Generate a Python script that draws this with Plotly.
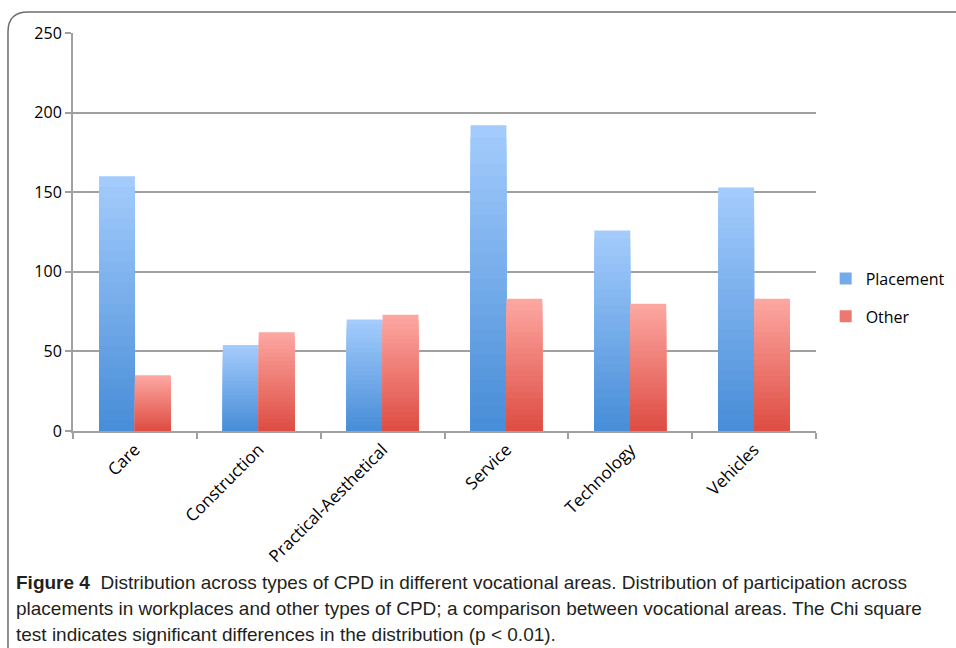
import plotly.graph_objects as go

# Vocational areas and counts per type of CPD
areas = ["Care", "Construction", "Practical-Aesthetical", "Service", "Technology", "Vehicles"]
placement = [160, 54, 70, 192, 126, 153]
other = [35, 62, 73, 83, 80, 83]
y_ticks = [0, 50, 100, 150, 200, 250]

# Top/bottom colours of the vertical gradient used for each series
BLUE_TOP, BLUE_BOT = (163, 203, 252), (72, 142, 216)
RED_TOP, RED_BOT = (252, 166, 160), (222, 78, 68)
STEPS = 24


def mix(c1, c2, t):
    return "rgb({},{},{})".format(*[round(a + (b - a) * t) for a, b in zip(c1, c2)])


fig = go.Figure()


def add_gradient_series(name, values, top, bot, group):
    # Stack of overlaid bars, shortest on top, giving a light-to-dark fade downwards
    for k in range(STEPS):
        frac = (STEPS - k) / STEPS
        fig.add_trace(go.Bar(
            x=areas,
            y=[v * frac for v in values],
            name=name,
            offsetgroup=group,
            legendgroup=group,
            showlegend=(k == STEPS // 2),
            marker=dict(color=mix(top, bot, k / (STEPS - 1)), line=dict(width=0)),
            hoverinfo="skip" if k else "x+y",
        ))


add_gradient_series("Placement", placement, BLUE_TOP, BLUE_BOT, "placement")
add_gradient_series("Other", other, RED_TOP, RED_BOT, "other")

# Rounded frame around chart and caption
r_x, r_y = 20 / 743, 20 / 398
x0, y0, x1, y1 = -0.0875, 1.0528, 1.35, -0.7
frame = (f"M {x0},{y1} L {x0},{y0 - r_y} Q {x0},{y0} {x0 + r_x},{y0} "
         f"L {x1},{y0}")

caption_lines = [
    "<b>Figure 4</b>  Distribution across types of CPD in different vocational areas. Distribution of participation across",
    "placements in workplaces and other types of CPD; a comparison between vocational areas. The Chi square",
    "test indicates significant differences in the distribution (p &lt; 0.01).",
]
cap_font = dict(family="Liberation Sans, Arial, sans-serif", size=19, color="#231f20")
annotations = []
for i, line in enumerate(caption_lines):
    py = 582 + 26 * i
    annotations.append(dict(
        text=line, xref="paper", yref="paper",
        x=(14 - 73) / 743, y=1 - (py - 33) / 398,
        xanchor="left", yanchor="middle", showarrow=False, font=cap_font, align="left",
    ))

fig.update_layout(
    width=956, height=648,
    margin=dict(l=73, r=140, t=33, b=217, autoexpand=False),
    paper_bgcolor="white", plot_bgcolor="white",
    barmode="group", bargap=0.42, bargroupgap=0,
    font=dict(family="Open Sans, sans-serif", size=16, color="#000000"),
    showlegend=True,
    legend=dict(x=1.013, y=0.335, xanchor="left", yanchor="middle",
                traceorder="grouped", tracegroupgap=14,
                font=dict(size=16), itemwidth=30),
    shapes=[dict(type="path", path=frame, xref="paper", yref="paper",
                 line=dict(color="#6d6e71", width=1.5))],
    annotations=annotations,
)
fig.update_xaxes(
    type="category", tickangle=-45, showgrid=False,
    showline=True, linecolor="#a0a0a0", linewidth=2,
    ticks="outside", tickson="boundaries", ticklen=6, tickcolor="#a0a0a0", tickwidth=2,
    tickfont=dict(size=17),
)
fig.update_yaxes(
    range=[0, 250], tickvals=y_ticks, showgrid=True, gridcolor="#a0a0a0", gridwidth=2,
    showline=True, linecolor="#a0a0a0", linewidth=2, zeroline=False,
    ticks="outside", ticklen=6, tickcolor="#a0a0a0", tickwidth=2,
    tickfont=dict(size=16),
)

fig.write_html("out.html")
